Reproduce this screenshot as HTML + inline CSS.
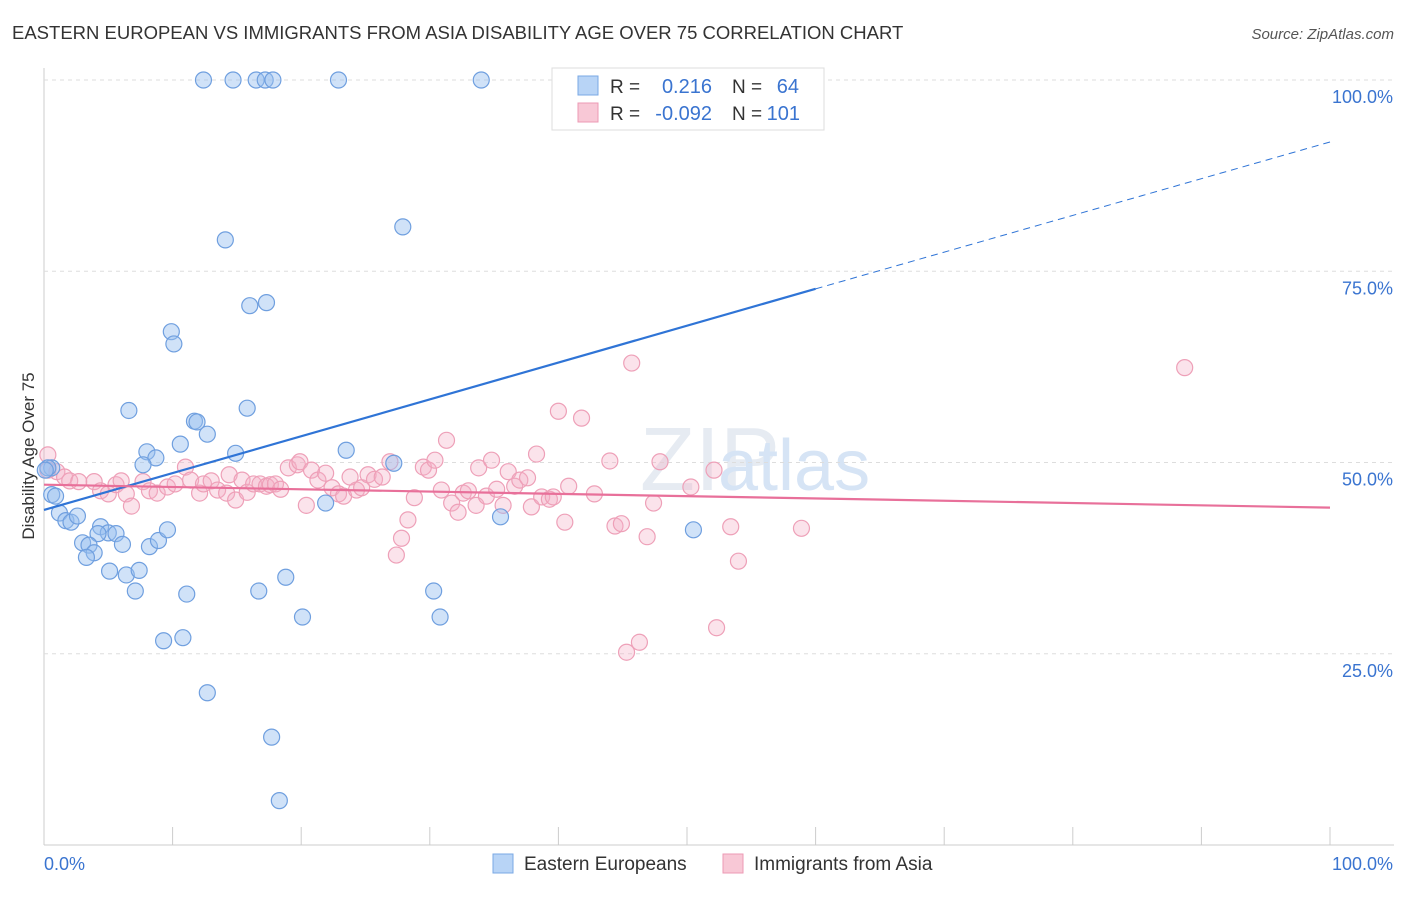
<!DOCTYPE html>
<html><head><meta charset="utf-8"><style>
body{margin:0;background:#fff;font-family:"Liberation Sans",sans-serif;}
svg text{font-family:"Liberation Sans",sans-serif;}
</style></head><body>
<svg id="chart" width="1406" height="892">
<text x="12" y="39" font-size="18.5" fill="#333">EASTERN EUROPEAN VS IMMIGRANTS FROM ASIA DISABILITY AGE OVER 75 CORRELATION CHART</text>
<text x="1394" y="39" font-size="15" fill="#555" font-style="italic" text-anchor="end">Source: ZipAtlas.com</text>
<text x="34" y="456" font-size="17" fill="#333" text-anchor="middle" transform="rotate(-90 34 456)">Disability Age Over 75</text>
<text x="640" y="490" font-size="90" fill="#e6ebf2" font-family="Liberation Serif">ZIP</text>
<text x="718" y="490" font-size="72" fill="#d6e4f5">atlas</text>
<g id="grid"></g><g id="ticks"></g><g id="pts"></g><g id="trend"></g>
<g>
<rect x="552" y="68" width="272" height="62" fill="#fff" stroke="#ddd"/>
<rect x="578" y="76" width="20" height="19" fill="#b8d4f6" stroke="#7aa8e4"/>
<rect x="578" y="103" width="20" height="19" fill="#f8c8d6" stroke="#ec9ab4"/>
<text x="610" y="93" font-size="19" fill="#333">R =</text><text x="712" y="93" font-size="20" fill="#3a74d0" text-anchor="end">0.216</text>
<text x="732" y="93" font-size="19" fill="#333">N =</text><text x="799" y="93" font-size="20" fill="#3a74d0" text-anchor="end">64</text>
<text x="610" y="120" font-size="19" fill="#333">R =</text><text x="712" y="120" font-size="20" fill="#3a74d0" text-anchor="end">-0.092</text>
<text x="732" y="120" font-size="19" fill="#333">N =</text><text x="800" y="120" font-size="20" fill="#3a74d0" text-anchor="end">101</text>
</g>
<g>
<rect x="493" y="854" width="20" height="19" fill="#b8d4f6" stroke="#7aa8e4"/>
<text x="524" y="870" font-size="19" fill="#333">Eastern Europeans</text>
<rect x="723" y="854" width="20" height="19" fill="#f8c8d6" stroke="#ec9ab4"/>
<text x="754" y="870" font-size="19" fill="#333">Immigrants from Asia</text>
</g>
</svg>
<script>
const yTicks=[25,50,75,100];
const yTickLabels=["25.0%","50.0%","75.0%","100.0%"];
const xTickLabels=["0.0%","100.0%"];
const blueX=[12.4,14.7,16.5,17.2,17.8,22.9,34,14.1,27.9,16,17.3,9.9,10.1,6.6,15.8,11.7,11.9,12.7,10.6,8,8.7,7.7,14.9,23.5,27.2,0.6,0.6,0.9,1.2,1.7,2.1,2.6,4.4,5,5.6,4.2,3,3.5,3.9,3.3,6.1,8.2,8.9,9.6,5.1,6.4,7.4,7.1,11.1,9.3,10.8,12.7,16.7,18.8,20.1,21.9,30.3,30.8,35.5,50.5,17.7,18.3,0.3,0.1];
const blueY=[100,100,100,100,100,100,100,79.1,80.8,70.5,70.9,67.1,65.5,56.8,57.1,55.4,55.3,53.7,52.4,51.4,50.6,49.7,51.2,51.6,49.9,49.3,45.8,45.6,43.4,42.4,42.2,43,41.6,40.8,40.7,40.7,39.5,39.2,38.2,37.6,39.3,39,39.8,41.2,35.8,35.3,35.9,33.2,32.8,26.7,27.1,19.9,33.2,35,29.8,44.7,33.2,29.8,42.9,41.2,14.1,5.8,49.3,49];
const pinkX=[0.3,1.0,1.6,2.0,2.7,3.9,4.4,5.0,5.6,6.0,6.4,6.8,7.7,8.2,8.8,9.6,10.2,11.0,11.4,12.1,12.4,13.0,13.5,14.2,14.4,14.9,15.4,15.8,16.3,16.8,17.3,17.6,18.0,18.4,19.0,19.7,19.9,20.4,20.8,21.3,21.9,22.4,22.9,23.3,23.8,24.3,24.7,25.2,25.7,26.3,26.9,27.4,27.8,28.3,28.8,29.5,29.9,30.4,30.9,31.3,31.7,32.2,32.6,33.0,33.6,33.8,34.4,34.8,35.2,35.7,36.1,36.6,37.0,37.6,37.9,38.3,38.7,39.3,39.6,40.0,40.5,40.8,41.8,42.8,44.0,44.4,44.9,45.3,45.7,46.3,46.9,47.4,47.9,50.3,52.1,52.3,53.4,54.0,58.9,88.7,0.3];
const pinkY=[51,48.8,48.1,47.6,47.5,47.5,46.3,45.9,47.1,47.6,45.9,44.3,47.5,46.3,46.0,46.8,47.2,49.4,47.7,46.0,47.2,47.6,46.4,46.0,48.4,45.1,47.7,46.1,47.2,47.2,46.9,47.1,47.2,46.5,49.3,49.7,50.1,44.4,49.0,47.7,48.6,46.7,45.9,45.6,48.1,46.4,46.7,48.4,47.8,48.1,50.1,37.9,40.1,42.5,45.4,49.4,49.0,50.3,46.4,52.9,44.7,43.5,46.0,46.3,44.4,49.3,45.6,50.3,46.5,44.4,48.8,46.9,47.7,48.0,44.2,51.1,45.5,45.2,45.5,56.7,42.2,46.9,55.8,45.9,50.2,41.7,42.0,25.2,63.0,26.5,40.3,44.7,50.1,46.8,49.0,28.4,41.6,37.1,41.4,62.4,49.0];
const blueTrend=[0,43.8,60,72.7];
const blueTrendExt=[60,72.7,100,91.9];
const pinkTrend=[0,47.1,100,44.1];
const NS="http://www.w3.org/2000/svg";
const X0=44,X1=1330,Y0=845,Y100=80;
function xs(v){return X0+(X1-X0)*v/100;}
function ys(v){return Y0-(Y0-Y100)*v/100;}
function mk(tag,attrs,parent){const e=document.createElementNS(NS,tag);for(const k in attrs)e.setAttribute(k,attrs[k]);document.getElementById(parent).appendChild(e);return e;}
let e=mk('line',{x1:X0,y1:68,x2:X0,y2:Y0,stroke:'#ccc'},'grid');


e=mk('line',{x1:X0,y1:Y0,x2:1394,y2:Y0,stroke:'#ccc'},'grid');


yTicks.forEach((t,i)=>{
 let g=mk('line',{x1:X0,y1:ys(t),x2:1394,y2:ys(t),stroke:'#ddd','stroke-dasharray':'4,4'},'grid');
 
 
 let l=mk('text',{x:1393,y:ys(t)+23,'font-size':18,fill:'#3a74d0','text-anchor':'end'},'ticks');
 l.textContent=yTickLabels[i];
 
 
});
for(let i=0;i<=10;i++){
 let t=mk('line',{x1:xs(i*10),y1:827,x2:xs(i*10),y2:Y0,stroke:'#ccc'},'ticks');
 
 
}
let xl=mk('text',{x:44,y:870,'font-size':18,fill:'#3a74d0'},'ticks');xl.textContent=xTickLabels[0];


let xr=mk('text',{x:1393,y:870,'font-size':18,fill:'#3a74d0','text-anchor':'end'},'ticks');xr.textContent=xTickLabels[1];


pinkX.forEach((v,i)=>{
 let c=mk('circle',{cx:xs(v),cy:ys(pinkY[i]),r:8,fill:'rgba(244,176,198,0.35)',stroke:'#eea0b8','stroke-width':1.2},'pts');
 
 
});
blueX.forEach((v,i)=>{
 let c=mk('circle',{cx:xs(v),cy:ys(blueY[i]),r:8,fill:'rgba(150,190,240,0.45)',stroke:'#6f9fdf','stroke-width':1.2},'pts');
 
 
});
let bt=mk('line',{x1:xs(blueTrend[0]),y1:ys(blueTrend[1]),x2:xs(blueTrend[2]),y2:ys(blueTrend[3]),stroke:'#2f74d6','stroke-width':2.2},'trend');


let be=mk('line',{x1:xs(blueTrendExt[0]),y1:ys(blueTrendExt[1]),x2:xs(blueTrendExt[2]),y2:ys(blueTrendExt[3]),stroke:'#2f74d6','stroke-width':1,'stroke-dasharray':'7,5'},'trend');


let pt=mk('line',{x1:xs(pinkTrend[0]),y1:ys(pinkTrend[1]),x2:xs(pinkTrend[2]),y2:ys(pinkTrend[3]),stroke:'#e8709a','stroke-width':2.2},'trend');


</script>
</body></html>
